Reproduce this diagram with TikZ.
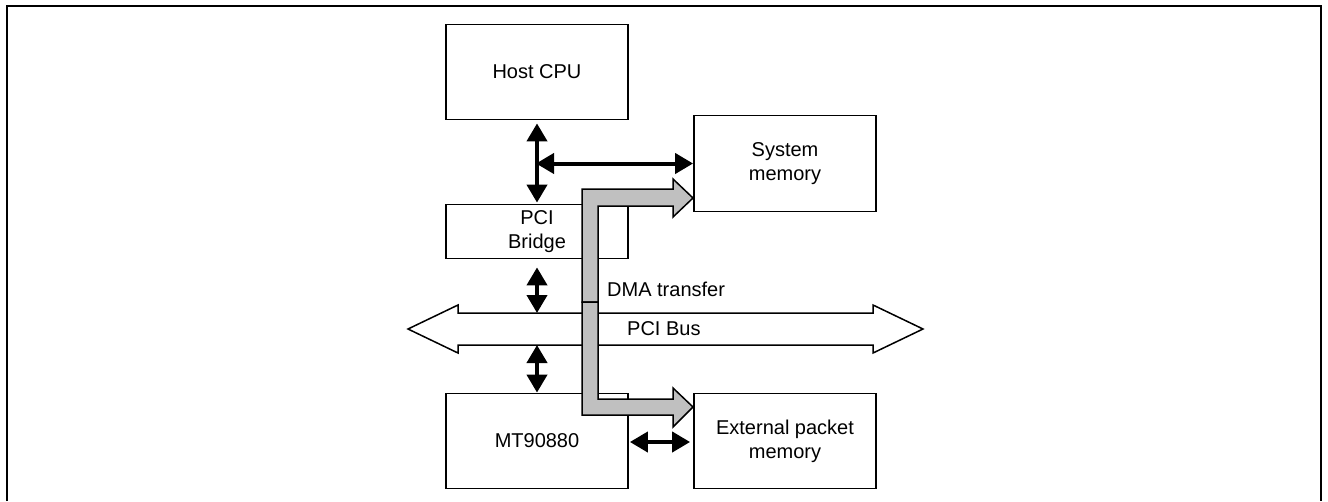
\documentclass[tikz,border=0pt]{standalone}
\usepackage{fontspec}
\setmainfont{Liberation Sans}
\usetikzlibrary{arrows.meta}
\definecolor{dmagray}{RGB}{192,192,192}
\tikzset{
  blk/.style={draw, line width=1.8pt, minimum width=182pt, inner sep=0pt, align=center,
              font=\fontsize{20}{24}\selectfont},
  lbl/.style={inner sep=0pt, font=\fontsize{20}{24}\selectfont},
  dbl/.style={line width=4pt, {Triangle[length=18pt,width=20pt]}-{Triangle[length=18pt,width=20pt]}},
  dmapiece/.style={fill=dmagray, draw, line width=1.5pt, line join=miter},
  busline/.style={draw, line width=1.5pt, fill=white, line join=miter}
}
\begin{document}
\begin{tikzpicture}[x=1pt,y=-1pt]
\useasboundingbox (0,0) rectangle (1328,501);
% frame
\draw[line width=2.7pt] (7,501) -- (7,6) -- (1321,6) -- (1321,501);

% boxes
\node[blk, minimum height=95pt] (host) at (537,72) {Host CPU};
\node[blk, minimum height=96pt] (sysmem) at (785,163.5) {System\\memory};
\node[blk, minimum height=54pt] (bridge) at (537,231.5) {PCI\\Bridge};
\node[blk, minimum height=95pt] (mt) at (537,441) {MT90880};
\node[blk, minimum height=95pt] (ext) at (785,441) {External packet\\memory};

% PCI bus (hollow double arrow)
\draw[busline] (408,329) -- (458,305) -- (458,313) -- (873,313) -- (873,305) -- (923,329)
  -- (873,353) -- (873,345) -- (458,345) -- (458,353) -- cycle;
\coordinate (bustop) at (537,313);
\coordinate (busbot) at (537,345);

% black double arrows
\coordinate (hj) at (host.south |- sysmem.west);
\draw[dbl] ([yshift=-3pt]host.south) -- ([yshift=1pt]bridge.north);
\draw[dbl] ([xshift=-1pt]hj) -- (sysmem.west);
\draw[dbl] ([yshift=-8pt]bridge.south) -- (bustop);
\draw[dbl] (busbot) -- (mt.north);
\draw[dbl] ([xshift=1pt,yshift=-1pt]mt.east) -- ([xshift=-3pt,yshift=-1pt]ext.west);

% DMA transfer gray arrow (two pieces)
\draw[dmapiece] (582,302) -- (582,189) -- (673,189) -- (673,179) -- (693,198)
  -- (673,217) -- (673,206) -- (598,206) -- (598,302) -- cycle;
\draw[dmapiece] (582,302) -- (582,415) -- (673,415) -- (673,427) -- (693,407)
  -- (673,388) -- (673,399) -- (598,399) -- (598,302) -- cycle;

% labels
\node[lbl, anchor=west] (dma) at (607,289) {DMA transfer};
\node[lbl, anchor=west] (pcibus) at (627,329) {PCI Bus};
\end{tikzpicture}
\end{document}
